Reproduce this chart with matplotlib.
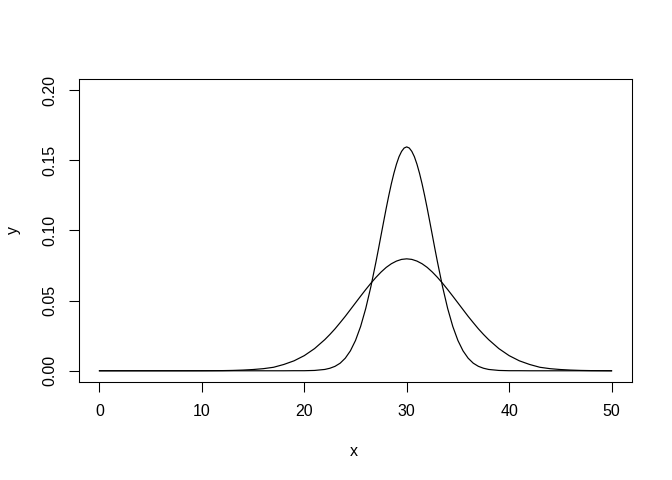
import matplotlib
matplotlib.use("Agg")
import matplotlib.pyplot as plt

plt.rcParams["font.family"] = ["Liberation Sans", "DejaVu Sans"]

# narrow curve (peak ~0.16)
x_narrow = [0, 18, 19, 20, 21, 22, 22.5, 23, 23.5, 24, 24.5, 25, 25.5, 26,
            26.5, 27, 27.25, 27.5, 27.75, 28, 28.25, 28.5, 28.75, 29, 29.25,
            29.5, 29.75, 30, 30.25, 30.5, 30.75, 31, 31.25, 31.5, 31.75, 32,
            32.25, 32.5, 32.75, 33, 33.5, 34, 34.5, 35, 35.5, 36, 36.5, 37,
            37.5, 38, 39, 40, 41, 42, 50]
y_narrow = [0, 0, 0.00005, 0.00005, 0.00024, 0.00095, 0.0018, 0.00317,
            0.0054, 0.00896, 0.0142, 0.0216, 0.0316, 0.0444, 0.0599, 0.0777,
            0.0871, 0.0968, 0.1064, 0.1159, 0.1249, 0.1333, 0.1408, 0.1473,
            0.1526, 0.1564, 0.1588, 0.1596, 0.1588, 0.1564, 0.1526, 0.1473,
            0.1408, 0.1333, 0.1249, 0.1159, 0.1064, 0.0968, 0.0871, 0.0777,
            0.0599, 0.0444, 0.0316, 0.0216, 0.0142, 0.00896, 0.0054, 0.00317,
            0.0018, 0.00095, 0.00024, 0.00005, 0.00005, 0, 0]

# wide curve (peak ~0.08)
x_wide = [0, 8, 10, 11, 12, 13, 14, 15, 16, 17, 18, 19, 20, 21, 22, 22.5,
          23, 23.5, 24, 24.5, 25, 25.5, 26, 26.5, 27, 27.5, 28, 28.5, 29,
          29.5, 30, 30.5, 31, 31.5, 32, 32.5, 33, 33.5, 34, 34.5, 35, 35.5,
          36, 36.5, 37, 37.5, 38, 39, 40, 41, 42, 43, 44, 45, 46, 47, 48, 50,
          ]
y_wide = [0, 0.00001, 0.00003, 0.00007, 0.00012, 0.00025, 0.0005, 0.0009,
          0.0015, 0.0025, 0.0045, 0.0071, 0.0108, 0.0158, 0.0222, 0.0259,
          0.0299, 0.0343, 0.0388, 0.0436, 0.0484, 0.0532, 0.0579, 0.0624,
          0.0666, 0.0704, 0.0737, 0.0763, 0.0782, 0.0794, 0.0798, 0.0794,
          0.0782, 0.0763, 0.0737, 0.0704, 0.0666, 0.0624, 0.0579, 0.0532,
          0.0484, 0.0436, 0.0388, 0.0343, 0.0299, 0.0259, 0.0222, 0.0158,
          0.0108, 0.0071, 0.0045, 0.0025, 0.0015, 0.0009, 0.0005, 0.00025,
          0.00012, 0]

x_ticks = [0, 10, 20, 30, 40, 50]
y_ticks = [0.00, 0.05, 0.10, 0.15, 0.20]
y_ticklabels = ["0.00", "0.05", "0.10", "0.15", "0.20"]

fig = plt.figure(figsize=(7, 5), dpi=96)
ax = fig.add_axes([79 / 672, 98 / 480, 553 / 672, 303 / 480])

ax.plot(x_narrow, y_narrow, color="black", lw=0.9)
ax.plot(x_wide, y_wide, color="black", lw=0.9)

ax.set_xlim(-2, 52)
ax.set_ylim(-0.008, 0.208)
ax.set_xticks(x_ticks)
ax.set_yticks(y_ticks)
ax.set_yticklabels(y_ticklabels, rotation=90, va="center")
ax.tick_params(length=7.2, width=0.8, labelsize=12, pad=9, color="black")
for s in ax.spines.values():
    s.set_linewidth(0.8)

fig.text(354 / 672, 1 - 452 / 480, "x", ha="center", va="center", fontsize=12)
fig.text(13 / 672, 1 - 230 / 480, "y", ha="center", va="center",
         fontsize=12, rotation=90)

fig.savefig("out.png", dpi=96)
